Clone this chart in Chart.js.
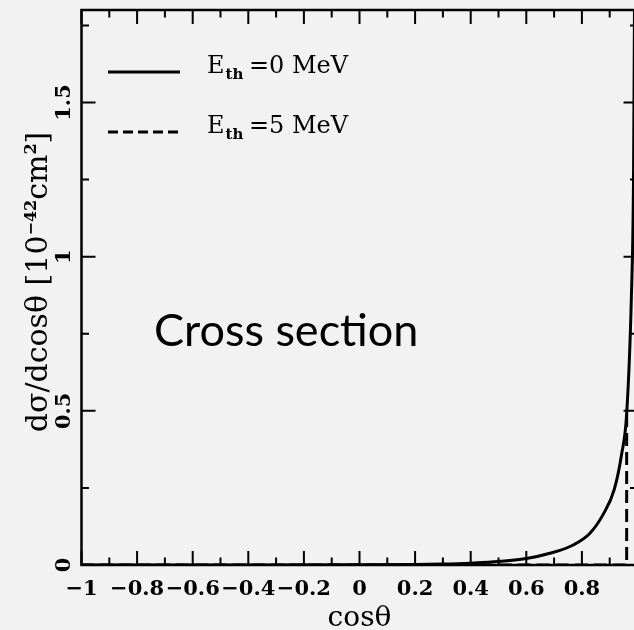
<!DOCTYPE html>
<html lang="en">
<head>
  <meta charset="UTF-8">
  <title>Cross section</title>
  <script src="https://cdn.jsdelivr.net/npm/chart.js"></script>
  <style>
    html, body { margin: 0; padding: 0; background: #f2f2f2; overflow: hidden; }
    #wrap { width: 650px; height: 630px; }
  </style>
</head>
<body>
<div id="wrap"><canvas id="xsecChart" width="650" height="630"></canvas></div>
<script>
  // dsigma/dcos(theta) for the two electron threshold energies
  const cosTheta0 = [-1, -0.5, 0, 0.2, 0.3, 0.4, 0.5, 0.6, 0.685, 0.769, 0.829, 0.877, 0.9165, 0.943, 0.961, 0.9777, 0.9856, 0.99];
  const sigma0    = [0, 0, 0.0005, 0.0015, 0.003, 0.006, 0.011, 0.021, 0.038, 0.065, 0.103, 0.165, 0.245, 0.36, 0.49, 0.86, 1.25, 1.95];
  // the 5 MeV curve is zero until it jumps onto the 0 MeV one (drawn from the top down)
  const cosTheta5 = [0.961, 0.961, -1];
  const sigma5    = [0.49, 0, 0];

  const xTickLabels = [-1, -0.8, -0.6, -0.4, -0.2, 0, 0.2, 0.4, 0.6, 0.8];
  const yTickLabels = [0, 0.5, 1, 1.5];
  const xMajorTicks = [-1, -0.8, -0.6, -0.4, -0.2, 0, 0.2, 0.4, 0.6, 0.8, 1];
  const xMinorTicks = [-0.9, -0.7, -0.5, -0.3, -0.1, 0.1, 0.3, 0.5, 0.7, 0.9];
  const yMinorTicks = [0.25, 0.75, 1.25, 1.75];

  const legendItems = [
    { value: '0', dash: [] },
    { value: '5', dash: [10, 5] }
  ];

  const SERIF = '"DejaVu Serif", serif';

  function fmt(v) {
    return v < 0 ? '\u2212' + String(-v) : String(v);
  }

  // frame, inward ticks on all four sides, labels, legend and caption
  const framePlugin = {
    id: 'frame',
    afterDatasetsDraw(chart) {
      const ctx = chart.ctx;
      const a = chart.chartArea;
      const xs = chart.scales.x, ys = chart.scales.y;
      ctx.save();
      ctx.strokeStyle = '#000';
      ctx.fillStyle = '#000';
      ctx.lineWidth = 2.5;
      ctx.strokeRect(a.left, a.top, a.right - a.left, a.bottom - a.top);

      ctx.lineWidth = 2;
      const major = 14, minor = 7.5;
      ctx.beginPath();
      xMajorTicks.forEach(v => {
        const px = xs.getPixelForValue(v);
        ctx.moveTo(px, a.bottom); ctx.lineTo(px, a.bottom - major);
        ctx.moveTo(px, a.top); ctx.lineTo(px, a.top + major);
      });
      xMinorTicks.forEach(v => {
        const px = xs.getPixelForValue(v);
        ctx.moveTo(px, a.bottom); ctx.lineTo(px, a.bottom - minor);
        ctx.moveTo(px, a.top); ctx.lineTo(px, a.top + minor);
      });
      yTickLabels.forEach(v => {
        const py = ys.getPixelForValue(v);
        ctx.moveTo(a.left, py); ctx.lineTo(a.left + major, py);
        ctx.moveTo(a.right, py); ctx.lineTo(a.right - major, py);
      });
      yMinorTicks.forEach(v => {
        const py = ys.getPixelForValue(v);
        ctx.moveTo(a.left, py); ctx.lineTo(a.left + minor, py);
        ctx.moveTo(a.right, py); ctx.lineTo(a.right - minor, py);
      });
      ctx.stroke();

      // tick labels
      ctx.font = 'bold 21px ' + SERIF;
      ctx.textAlign = 'center';
      ctx.textBaseline = 'alphabetic';
      xTickLabels.forEach(v => {
        ctx.fillText(fmt(v), xs.getPixelForValue(v), 595);
      });
      yTickLabels.forEach(v => {
        ctx.save();
        ctx.translate(70, ys.getPixelForValue(v));
        ctx.rotate(-Math.PI / 2);
        ctx.fillText(fmt(v), 0, 0);
        ctx.restore();
      });

      // x title
      ctx.font = '28px ' + SERIF;
      ctx.fillText('cos\u03b8', xs.getPixelForValue(0), 626);

      // y title, with raised exponents
      const parts = [
        { t: 'd\u03c3/dcos\u03b8 [10', f: '30px ' + SERIF, dy: 0 },
        { t: '\u221242', f: 'bold 16px ' + SERIF, dy: -11 },
        { t: 'cm', f: '30px ' + SERIF, dy: 0 },
        { t: '2', f: 'bold 16px ' + SERIF, dy: -11 },
        { t: ']', f: '30px ' + SERIF, dy: 0 }
      ];
      let total = 0;
      parts.forEach(p => { ctx.font = p.f; p.w = ctx.measureText(p.t).width; total += p.w; });
      ctx.save();
      ctx.translate(47, 282);
      ctx.rotate(-Math.PI / 2);
      ctx.textAlign = 'left';
      let cx = -total / 2;
      parts.forEach(p => { ctx.font = p.f; ctx.fillText(p.t, cx, p.dy); cx += p.w; });
      ctx.restore();

      // legend
      ctx.textAlign = 'left';
      legendItems.forEach((item, i) => {
        const y = 72 + i * 60;
        ctx.lineWidth = 3;
        ctx.setLineDash(item.dash);
        ctx.beginPath();
        ctx.moveTo(108, y); ctx.lineTo(180, y);
        ctx.stroke();
        ctx.setLineDash([]);
        ctx.font = '24px ' + SERIF;
        ctx.fillText('E', 207, y + 1);
        const ew = ctx.measureText('E').width;
        ctx.font = 'bold 15px ' + SERIF;
        ctx.fillText('th', 207 + ew + 1, y + 7);
        ctx.font = '24px ' + SERIF;
        ctx.fillText('=' + item.value + ' MeV', 249, y + 1);
      });

      // caption
      ctx.font = '45px Lato, "Open Sans", sans-serif';
      ctx.fillText('Cross section', 154, 346);
      ctx.restore();
    }
  };

  new Chart(document.getElementById('xsecChart'), {
    type: 'line',
    data: {
      datasets: [
        {
          label: 'E_th=0 MeV',
          data: cosTheta0.map((x, i) => ({ x: x, y: sigma0[i] })),
          borderColor: '#000',
          borderWidth: 3,
          pointRadius: 0,
          cubicInterpolationMode: 'monotone'
        },
        {
          label: 'E_th=5 MeV',
          data: cosTheta5.map((x, i) => ({ x: x, y: sigma5[i] })),
          borderColor: '#000',
          borderWidth: 3,
          borderDash: [13, 6],
          pointRadius: 0,
          tension: 0
        }
      ]
    },
    options: {
      responsive: false,
      animation: false,
      devicePixelRatio: 1,
      layout: { padding: { left: 81.5, top: 10, right: 12.5, bottom: 65 } },
      plugins: { legend: { display: false }, tooltip: { enabled: false } },
      scales: {
        x: { type: 'linear', min: -1, max: 1, display: false },
        y: { type: 'linear', min: 0, max: 1.8, display: false }
      }
    },
    plugins: [framePlugin]
  });
</script>
</body>
</html>
